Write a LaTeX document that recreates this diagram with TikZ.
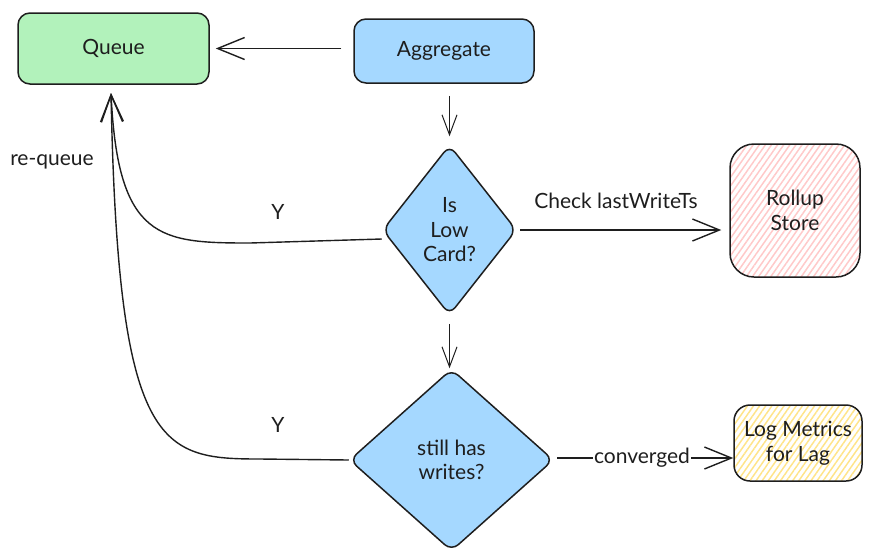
\documentclass[tikz,border=0pt]{standalone}
\usepackage{fontspec}
\setmainfont{Lato}
\usetikzlibrary{arrows.meta,patterns.meta,shapes.geometric}

\definecolor{inkline}{HTML}{1E1E1E}
\definecolor{queuegreen}{HTML}{B2F2BB}
\definecolor{stepblue}{HTML}{A5D8FF}
\definecolor{hatchpink}{HTML}{FFC9C9}
\definecolor{hatchyellow}{HTML}{FFE48A}

\begin{document}
\begin{tikzpicture}[
        x=1pt,
        y=-1pt,
        box/.style={
            draw=inkline,
            line width=1.5pt,
            rounded corners=12pt,
            align=center
        },
        hatched/.style={
            pattern={Lines[angle=55,distance=5pt,line width=1.5pt]},
            pattern color=#1
        },
        choice/.style={
            diamond,
            draw=inkline,
            fill=stepblue,
            line width=1.5pt,
            rounded corners=9pt,
            inner sep=0pt,
            align=center
        },
        edge/.style={
            draw=inkline,
            line width=1.4pt,
            -{Straight Barb[length=27pt,width=22pt,line width=1.4pt]}
        },
        thinedge/.style={
            draw=inkline,
            line width=1pt,
            -{Straight Barb[length=20pt,width=15pt,line width=1pt]}
        },
        every node/.style={
            font=\fontsize{21}{24.5}\selectfont,
            text=inkline
        }
    ]

    \useasboundingbox (0,0) rectangle (875,558);

    % Rounded boxes
    \node[box,fill=queuegreen,minimum width=191pt,minimum height=71pt] (queue) at (113.5,48.5) {Queue};
    \node[box,fill=stepblue,minimum width=180pt,minimum height=64pt] (aggregate) at (444,51) {Aggregate};
    \node[box,rounded corners=24pt,hatched=hatchpink,minimum width=130pt,minimum height=133pt] (rollup) at (795,210.5) {Rollup\\Store};
    \node[box,rounded corners=16pt,hatched=hatchyellow,minimum width=128pt,minimum height=76pt] (logmetrics) at (798,443) {Log Metrics\\for Lag};

    % Decisions
    \node[choice,aspect=0.79,minimum width=134pt,minimum height=170pt] (lowcard) at (449.5,230) {Is\\Low\\Card?};
    \node[choice,aspect=1.12,minimum width=204pt,minimum height=182pt] (writes) at (451.5,460) {still has\\writes?};

    % Straight connectors
    \coordinate (convergedstart) at ([yshift=2pt]writes.east);
    \draw[edge,shorten <=12pt,shorten >=6pt] (aggregate.west |- queue.east) -- (queue.east);
    \draw[thinedge,shorten <=12pt,shorten >=8pt] (lowcard.north |- aggregate.south) -- (lowcard.north);
    \draw[thinedge,shorten <=8pt] (lowcard.south) -- (lowcard.south |- writes.north);
    \draw[edge,shorten <=3pt,shorten >=8pt] (lowcard.east) -- (rollup.west |- lowcard.east);
    \draw[edge,shorten <=3pt] (convergedstart) -- node[pos=0.49,fill=white,inner xsep=1pt,inner ysep=0pt] (converged) {converged} (logmetrics.west |- convergedstart);

    % Re-queue connectors
    \coordinate (queuein) at (111,93);
    \coordinate (lowstart) at ([yshift=-9pt]lowcard.west);
    \coordinate (lowbend) at (250,243);
    \coordinate (writesbend) at (260,459);
    \draw[edge] (lowstart) -- (lowbend) .. controls (160,243) and (118,240) .. (queuein);
    \draw[edge] (writes.west) -- (writesbend) .. controls (160,459) and (118,450) .. (queuein);

    % Connector labels
    \node (requeue) at (52,162) {re-queue};
    \node (lowyes) at (278,212) {Y};
    \node (writesyes) at (278,425) {Y};
    \node (check) at (616,201) {Check lastWriteTs};

    \end{tikzpicture}
\end{document}
